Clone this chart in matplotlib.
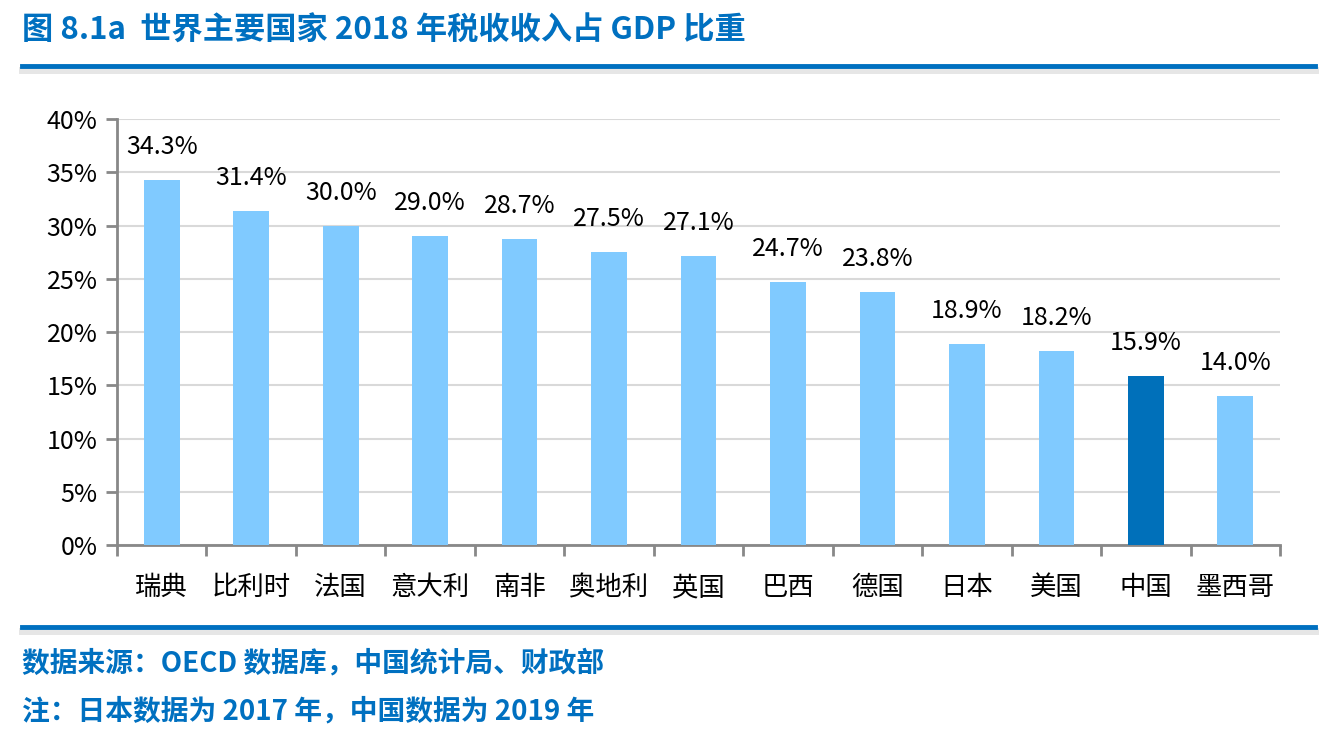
"""图 8.1a 世界主要国家 2018 年税收收入占 GDP 比重"""

import matplotlib.pyplot as plt
import matplotlib.ticker as mticker
from matplotlib.lines import Line2D

plt.rcParams["font.family"] = ["Noto Sans CJK SC", "DejaVu Sans"]

COUNTRIES = ["瑞典", "比利时", "法国", "意大利", "南非", "奥地利", "英国",
             "巴西", "德国", "日本", "美国", "中国", "墨西哥"]
TAX_SHARE = [34.3, 31.4, 30.0, 29.0, 28.7, 27.5, 27.1, 24.7, 23.8, 18.9, 18.2, 15.9, 14.0]
HIGHLIGHT = "中国"

BAR_COLOR = "#80CAFF"
HIGHLIGHT_COLOR = "#0070BA"
BLUE = "#0070C0"
AXIS_GRAY = "#888888"

TITLE = "图 8.1a  世界主要国家 2018 年税收收入占 GDP 比重"
SOURCE = "数据来源：OECD 数据库，中国统计局、财政部"
NOTE = "注：日本数据为 2017 年，中国数据为 2019 年"


def main() -> None:
    fig = plt.figure(figsize=(13.28, 7.46), dpi=100)
    ax = fig.add_axes([0.0881, 0.2694, 0.8758, 0.571])

    x = list(range(len(COUNTRIES)))
    colors = [HIGHLIGHT_COLOR if c == HIGHLIGHT else BAR_COLOR for c in COUNTRIES]
    ax.bar(x, TAX_SHARE, width=0.4, color=colors, zorder=3)

    # value labels sit about 3 points above each bar
    for xi, v in zip(x, TAX_SHARE):
        ax.text(xi, v + 3.1, f"{v:.1f}%", ha="center", va="center", fontsize=18)

    ax.set_xlim(-0.5, len(COUNTRIES) - 0.5)
    ax.set_ylim(0, 40)
    ax.yaxis.set_major_locator(mticker.MultipleLocator(5))
    ax.yaxis.set_major_formatter(mticker.FuncFormatter(lambda v, _: f"{int(v)}%"))
    ax.grid(axis="y", color="#D9D9D9", linewidth=1.5, zorder=0)
    ax.set_axisbelow(True)

    # ticks between categories, labels centred under bars
    ax.set_xticks([i - 0.5 for i in range(len(COUNTRIES) + 1)])
    ax.set_xticklabels([])
    ax.set_xticks(x, minor=True)
    ax.set_xticklabels(COUNTRIES, minor=True, fontsize=19)
    ax.tick_params(axis="x", which="minor", length=0, pad=21)
    ax.tick_params(axis="x", which="major", length=8, width=2, color=AXIS_GRAY)
    ax.tick_params(axis="y", length=8, width=2, color=AXIS_GRAY, labelsize=18, pad=6)

    for side in ("top", "right"):
        ax.spines[side].set_visible(False)
    for side in ("left", "bottom"):
        ax.spines[side].set_color(AXIS_GRAY)
        ax.spines[side].set_linewidth(2)

    # title, rules and footnotes
    fig.text(22 / 1328, 1 - 31 / 746, TITLE, fontsize=22.5, fontweight="bold",
             color=BLUE, va="center", ha="left")
    for y_px in (66, 627):
        y = 1 - y_px / 746
        fig.add_artist(Line2D([22 / 1328, 1315 / 1328], [y - 0.006, y - 0.006],
                              color="#E6E6E6", linewidth=5, transform=fig.transFigure))
        fig.add_artist(Line2D([22 / 1328, 1315 / 1328], [y, y],
                              color=BLUE, linewidth=3.5, transform=fig.transFigure))
    fig.text(22 / 1328, 1 - 663 / 746, SOURCE, fontsize=20, fontweight="bold",
             color=BLUE, va="center", ha="left")
    fig.text(22 / 1328, 1 - 711 / 746, NOTE, fontsize=20, fontweight="bold",
             color=BLUE, va="center", ha="left")

    fig.savefig("out.png", dpi=100)
    plt.close(fig)


if __name__ == "__main__":
    main()
